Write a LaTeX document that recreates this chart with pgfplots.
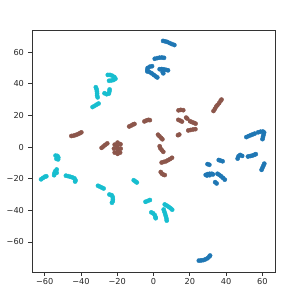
\documentclass[border=0pt]{standalone}
\usepackage{pgfplots}
\pgfplotsset{compat=1.18}
\usepackage{fontspec}
\setmainfont{DejaVu Sans}
\definecolor{tabblue}{RGB}{31,119,180}
\definecolor{tabbrown}{RGB}{140,86,75}
\definecolor{tabcyan}{RGB}{23,190,207}
\begin{document}
\begin{tikzpicture}
\path (-32pt,-27pt) rectangle (267pt,272pt);
\begin{axis}[
  at={(0,0)}, anchor=south west,
  width=243pt, height=242pt, scale only axis,
  xmin=-67, xmax=67, ymin=-79, ymax=74,
  axis line style={black!80, line width=0.6pt},
  tick pos=left, tick align=outside,
  major tick length=3.5pt,
  every tick/.style={black!80, line width=0.6pt},
  xtick={-60,-40,-20,0,20,40,60},
  xticklabels={−60,−40,−20,0,20,40,60},
  ytick={-60,-40,-20,0,20,40,60},
  yticklabels={−60,−40,−20,0,20,40,60},
  ticklabel style={font=\fontsize{8.2}{9.5}\selectfont, text=black!85},
  xticklabel style={yshift=1pt},
  yticklabel style={xshift=-1pt},
  every axis plot/.append style={only marks, mark=*, mark size=2.1pt},
]
% blue
\addplot[tabblue, mark options={draw=tabblue, fill=tabblue}] coordinates {
(5.3,67.1)(6.5,66.8)(7.7,66.4)(9,65.7)(10.2,65.1)(11.5,64.5)
(0.7,55.8)(2,56.2)(3.3,56.5)(4.6,56.6)(5.8,56.4)
(-3.2,50)(-2,50.8)(-0.8,51.1)(-3.4,48.8)(-3.4,47.8)(-2.2,47.4)(-1,46.6)(0.2,45.6)(1.2,44.7)(2.1,44)
(3.4,49.2)(4.6,49.3)(5.8,49.1)(7,48.8)(8,48.5)(5,47.5)(5.4,46.6)
(51.2,6.3)(52.4,6.9)(53.6,7.5)(54.7,8)(55.8,8.5)
(57.7,9.3)(59,9.7)(60.3,9.8)(61,9.2)(60.7,7.8)(60.4,6.4)(60.1,5)
(46.4,-7.3)(46.9,-5.8)(47.8,-5)(48.9,-5.6)
(52.1,-6)(53.3,-5.7)(54.5,-5.4)(55.6,-4.9)(56.4,-4.5)
(61.1,-10.5)(60.6,-11.8)(60.1,-13.1)(59.6,-14.4)
(29.8,-10.8)(30.8,-11.2)
(36,-8.2)(37,-8.6)(38.1,-9)
(28.8,-17.6)(29.9,-17.1)(31,-16.9)(32.2,-16.9)(32.8,-17.3)(29.5,-18)(31,-17.8)
(35.3,-16.9)(36.3,-17.6)(37.3,-18.5)(38.3,-19.5)(39.3,-20.6)
(34,-22.2)(34.8,-23)
(25,-71.8)(26.2,-71.7)(27.4,-71.5)(28.6,-71)(29.8,-70.3)(30.8,-69.2)(31.2,-68.6)
};
% brown
\addplot[tabbrown, mark options={draw=tabbrown, fill=tabbrown}] coordinates {
(-45.3,7)(-44.1,7.2)(-42.9,7.6)(-41.8,8.1)(-40.7,8.7)(-39.8,9.3)
(-28.6,-0.5)(-27.6,0.4)(-26.6,1.4)(-25.5,2.3)
(-21.8,-1)(-21.4,1.5)(-19.8,2.8)(-18.2,1.8)(-18.1,-1)(-18.4,-3.5)(-19.8,-4.3)(-21.4,-3.5)
(-20,0.5)(-19.8,-1.2)(-19.6,-2.6)
(-13.4,13)(-12.3,13.6)(-11.2,14.3)(-10.5,14.6)
(-5,16.2)(-3.9,16.8)(-2.8,17.2)(-2,17)
(2.5,7.8)(3.3,6.8)(4.2,5.8)(4.9,4.9)
(3.4,0.5)(3.8,-0.8)(4.6,-2)(5.4,-3)
(4.5,-9.8)(5.7,-9.4)(6.9,-9)(8,-8.3)(9.1,-7.6)(10.2,-6.8)
(4,-15.8)(4.6,-16.8)(5.5,-17.5)(6.2,-17.7)
(13.5,7.5)(14.2,7.9)
(13.8,23.2)(15,23.5)(16.4,23.3)
(13.7,17.2)(14.7,16.7)(15.7,16.1)
(18,18.6)(18.6,18)
(20.2,16.3)(21.2,15.8)(22.3,15.3)(23.2,14.8)
(19.2,10.5)(20.5,10.8)(21.8,11.1)(23.1,11.3)
(33.1,22.8)(33.9,24.2)(34.6,25.6)(35.3,26.6)(36.2,27.8)(37,29.2)(37.5,30)
};
% cyan
\addplot[tabcyan, mark options={draw=tabcyan, fill=tabcyan}] coordinates {
(-25.2,45.6)(-24,45.6)(-22.8,45.1)(-21.6,44.3)(-21,43.2)(-22,42.4)(-23.2,42.1)(-24.5,41.9)
(-31.8,37.8)(-31.4,36.6)(-31.2,35.3)(-31.1,34)(-31.1,32.7)(-30.8,31.4)
(-27,34)(-25.8,33.4)(-24.6,33.8)(-24.3,35.2)(-24.2,36.4)
(-33.6,25.3)(-32.5,26)(-31.4,26.8)(-30.3,27.5)
(-54,-5.4)(-53,-5.6)(-52.5,-6.6)(-52.6,-7.8)(-53.5,-7.5)
(-53.4,-14.2)(-54.2,-15.3)(-54.6,-16.5)(-54.8,-17.8)(-53.4,-16.3)
(-62,-20.4)(-61,-19.6)(-60,-18.8)(-59.1,-18.5)
(-48.3,-18.1)(-47.1,-18.4)(-45.9,-18.8)(-44.7,-19.2)(-43.6,-19.8)(-43,-21)(-43.2,-21.8)
(-30.6,-24.5)(-29.5,-25.1)(-28.4,-25.7)(-27.5,-26.2)
(-24.3,-30)(-23.1,-30.4)(-22.5,-31.6)(-22.4,-33)(-22.5,-34.3)(-22.9,-35.2)
(-10.9,-21)(-9.9,-21.8)(-9.2,-22.4)
(-4.4,-34.6)(-3.2,-34.1)(-2,-33.5)
(-1.2,-41.3)(-0.2,-41.9)(0.7,-43)(1.1,-44.3)(1.2,-45)
(6.2,-36.3)(7.3,-37)(8.4,-37.8)(9.4,-38.7)(10.3,-39.6)
(5.6,-39.5)(6,-40.9)(6.4,-42.3)(6.8,-43.7)(7.1,-45.1)(7.3,-46.5)
};
\end{axis}
\end{tikzpicture}
\end{document}
